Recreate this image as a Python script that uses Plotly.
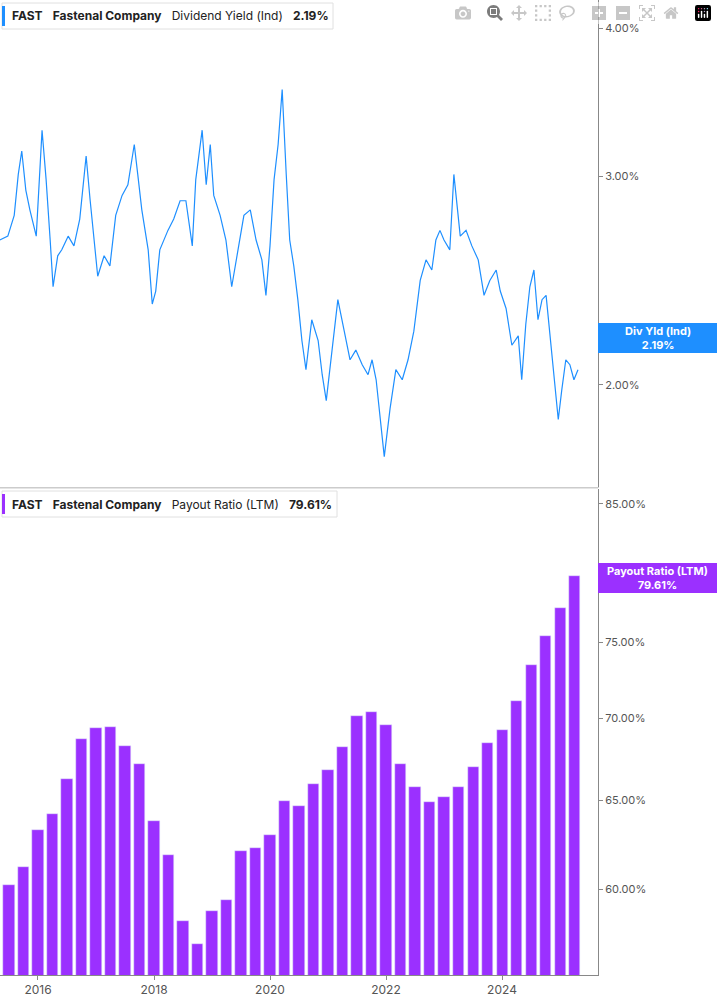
import plotly.graph_objects as go
from plotly.subplots import make_subplots

# Dividend yield (%), sampled, x as decimal year
yld_t = [2015.34,2015.48,2015.59,2015.66,2015.72,2015.79,2015.86,2015.97,2016.07,2016.14,2016.21,2016.26,2016.34,2016.41,2016.52,2016.62,2016.72,2016.83,2016.90,2016.97,2017.03,2017.14,2017.24,2017.34,2017.45,2017.55,2017.66,2017.72,2017.79,2017.90,2017.97,2018.03,2018.10,2018.24,2018.34,2018.45,2018.55,2018.66,2018.72,2018.83,2018.90,2018.97,2019.03,2019.14,2019.24,2019.34,2019.45,2019.55,2019.66,2019.76,2019.86,2019.93,2020.00,2020.07,2020.14,2020.21,2020.28,2020.34,2020.41,2020.48,2020.55,2020.62,2020.72,2020.83,2020.90,2020.97,2021.07,2021.17,2021.28,2021.38,2021.48,2021.59,2021.69,2021.76,2021.83,2021.90,2021.97,2022.07,2022.17,2022.28,2022.38,2022.48,2022.59,2022.69,2022.79,2022.86,2022.93,2023.00,2023.10,2023.17,2023.28,2023.38,2023.48,2023.59,2023.69,2023.79,2023.90,2023.97,2024.07,2024.17,2024.28,2024.34,2024.41,2024.48,2024.55,2024.62,2024.69,2024.76,2024.83,2024.90,2024.97,2025.03,2025.10,2025.17,2025.24,2025.31]
yld_v = [2.65,2.67,2.78,3.01,3.15,2.92,2.81,2.67,3.28,2.98,2.65,2.42,2.57,2.60,2.67,2.62,2.76,3.12,2.86,2.65,2.47,2.57,2.52,2.78,2.89,2.95,3.19,3.01,2.81,2.60,2.34,2.40,2.60,2.70,2.76,2.86,2.86,2.62,2.98,3.28,2.95,3.19,2.89,2.78,2.65,2.42,2.60,2.78,2.81,2.65,2.55,2.38,2.62,2.98,3.19,3.55,3.01,2.65,2.52,2.36,2.18,2.06,2.27,2.18,2.04,1.94,2.14,2.36,2.22,2.10,2.14,2.08,2.04,2.10,2.02,1.87,1.74,1.91,2.06,2.02,2.10,2.22,2.45,2.55,2.50,2.65,2.70,2.65,2.60,3.01,2.67,2.70,2.62,2.55,2.38,2.45,2.50,2.40,2.32,2.16,2.20,2.02,2.25,2.42,2.50,2.27,2.36,2.38,2.20,2.02,1.87,1.98,2.10,2.08,2.02,2.06,2.19]

# Payout ratio (LTM, %) quarterly
pay_t = [2015.5 + 0.25*i for i in range(40)]
pay_v = [60.2,61.2,63.3,64.2,66.3,68.7,69.4,69.5,68.3,67.2,63.8,61.9,58.3,57.1,58.8,59.4,62.1,62.3,63.0,65.0,64.7,66.0,66.8,68.2,70.2,70.4,69.6,67.2,65.8,64.9,65.2,65.8,67.0,68.5,69.3,71.1,73.5,75.4,77.4,79.61]

x_ticks = [2016,2018,2020,2022,2024]
BLUE = "#1e8fff"
PURP = "#9b30ff"
GRAY = "#555555"

fig = make_subplots(rows=2, cols=1, shared_xaxes=True, vertical_spacing=0.002)
fig.add_trace(go.Scatter(x=yld_t, y=yld_v, mode="lines", line=dict(color=BLUE, width=1.2),
                         showlegend=False, hoverinfo="skip"), row=1, col=1)
fig.add_trace(go.Bar(x=pay_t, y=pay_v, marker_color=PURP, width=0.19, showlegend=False,
                     hoverinfo="skip"), row=2, col=1)

fig.update_layout(width=717, height=1005, margin=dict(l=0, r=119, t=0, b=30),
                  plot_bgcolor="white", paper_bgcolor="white", bargap=0,
                  font=dict(family="Inter, Roboto, sans-serif", size=11, color=GRAY))
fig.update_xaxes(range=[2015.345, 2025.655], showgrid=False, zeroline=False)
fig.update_xaxes(row=1, col=1, showticklabels=False, showline=True, linecolor="#cccccc")
fig.update_xaxes(row=2, col=1, tickvals=x_ticks, ticktext=[str(t) for t in x_ticks],
                 showline=True, linecolor="#888888", ticks="outside", ticklen=4,
                 tickcolor="#888888", tickfont=dict(size=12, color=GRAY))
fig.update_yaxes(row=1, col=1, domain=[0.5005, 1], type="log", range=[0.2149, 0.6257],
                 side="right", showgrid=False, zeroline=False, showline=True, linecolor="#888888",
                 tickvals=[2, 3, 4], ticktext=["2.00%", "3.00%", "4.00%"], ticks="outside",
                 ticklen=4, tickcolor="#888888", tickfont=dict(size=11, color=GRAY))
fig.update_yaxes(row=2, col=1, domain=[0, 0.4985], type="log", range=[1.7444, 1.9353],
                 side="right", showgrid=False, zeroline=False, showline=True, linecolor="#888888",
                 tickvals=[60, 65, 70, 75, 85],
                 ticktext=["60.00%", "65.00%", "70.00%", "75.00%", "85.00%"], ticks="outside",
                 ticklen=4, tickcolor="#888888", tickfont=dict(size=11, color=GRAY))

shapes = []
annos = []
def legend(ytop, label, val, color, x1):
    shapes.append(dict(type="rect", xref="paper", yref="paper", x0=2/598, x1=x1/598,
                       y0=ytop - 26/975, y1=ytop, line=dict(color="#e0e0e0", width=1),
                       fillcolor="white", layer="above"))
    shapes.append(dict(type="rect", xref="paper", yref="paper", x0=2/598, x1=5/598,
                       y0=ytop - 23/975, y1=ytop - 3/975, line=dict(width=0),
                       fillcolor=color, layer="above"))
    annos.append(dict(xref="paper", yref="paper", x=10/598, y=ytop - 13/975, xanchor="left",
                      yanchor="middle", showarrow=False,
                      text=f"<b>FAST</b>   <b>Fastenal Company</b>   {label}   <b>{val}</b>",
                      font=dict(size=12, color="#222222")))
legend(1 - 3/975, "Dividend Yield (Ind)", "2.19%", BLUE, 333)
legend(1 - 491/975, "Payout Ratio (LTM)", "79.61%", PURP, 337)

def tag(yc, text, color):
    shapes.append(dict(type="rect", xref="paper", yref="paper", x0=1, x1=717/598,
                       y0=(975 - yc - 15)/975, y1=(975 - yc + 15)/975, line=dict(width=0),
                       fillcolor=color))
    annos.append(dict(xref="paper", yref="paper", x=(598 + 717)/2/598, y=(975 - yc)/975,
                      xanchor="center", yanchor="middle",
                      showarrow=False, text=text, align="center",
                      font=dict(size=11, color="white")))
tag(338, "<b>Div Yld (Ind)</b><br><b>2.19%</b>", BLUE)
tag(578, "<b>Payout Ratio (LTM)</b><br><b>79.61%</b>", PURP)
shapes.append(dict(type="line", xref="paper", yref="paper", x0=0, x1=1, y0=1 - 488/975,
                   y1=1 - 488/975, line=dict(color="#cccccc", width=1)))
fig.update_layout(shapes=shapes, annotations=annos)
fig.write_html("out.html", post_script="document.body.style.margin='0';")
